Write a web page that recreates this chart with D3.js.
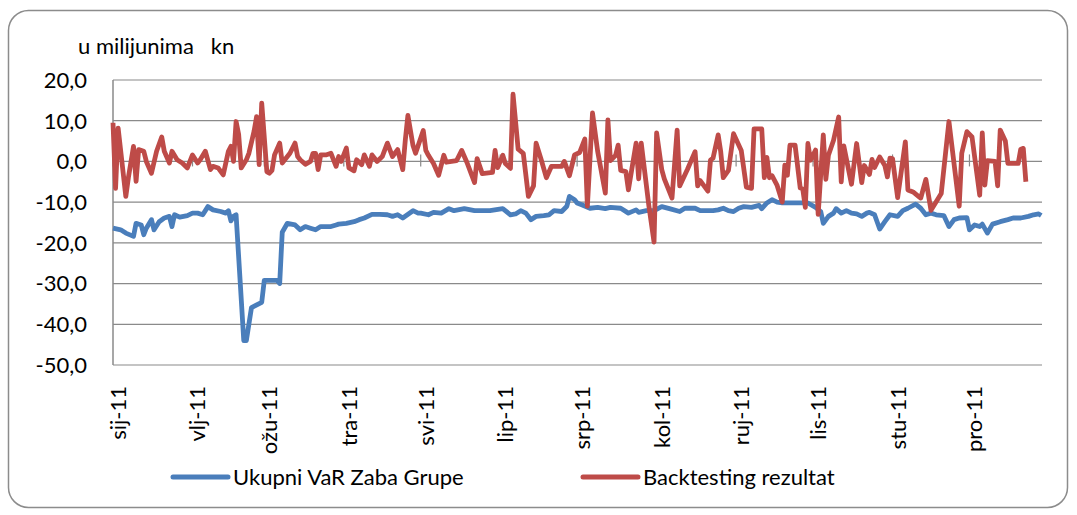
<!DOCTYPE html>
<html>
<head>
<meta charset="utf-8">
<script src="https://cdn.jsdelivr.net/npm/d3@7"></script>
<style>
  body { margin: 0; background: #fff; }
  svg { font-family: Lato, "Open Sans", sans-serif; }
</style>
</head>
<body>
<svg id="chart" width="1077" height="515"></svg>
<script>
// day of year 2011 (0 = 1 Jan) and value in millions of kn
const varDays = [0,3,5,8,9,11,12,13,15,16,18,20,22,23,24,26,29,31,33,35,37,39,42,44,45,46,47,48,51,52,54,58,59,62,64,65,66,68,71,73,75,77,
  79,81,85,87,88,91,94,96,98,101,104,107,109,111,113,117,119,120,123,125,128,131,133,137,141,147,152,155,157,159,161,163,165,168,170,172,175,177,178,180,181,183,186,189,192,194,198,201,204,205,208,211,214,217,221,223,227,229,232,234,236,
  238,240,242,244,246,249,252,253,255,257,259,261,268,271,274,276,277,279,281,282,284,286,288,290,292,294,295,297,299,301,303,306,308,310,313,315,317,319,321,324,326,328,330,333,334,336,338,339,341,343,346,349,351,354,357,359,361,362];
const varValues = [-16.4,-16.8,-17.6,-18.4,-15.2,-15.6,-18,-16.4,-14.3,-16.8,-14.8,-13.9,-13.5,-16,-13.1,-13.7,-13.3,-12.7,-12.7,-13.1,-11.1,-11.9,-12.3,-12.7,-12.1,-14.6,-13.5,-13.1,-44,-44,-35.9,-34.6,-29.2,-29.2,-29.2,-30,-17.4,-15.2,-15.6,-16.8,-16,-16.4,
  -16.8,-16,-16,-15.6,-15.4,-15.2,-14.8,-14.3,-13.9,-13,-13,-13.1,-13.5,-13.1,-13.9,-12.1,-12.7,-12.7,-13.1,-12.5,-12.7,-11.6,-12.1,-11.6,-12.1,-12.1,-11.6,-13.1,-12.9,-12.1,-12.7,-14.3,-13.5,-13.3,-13.1,-12.1,-12.3,-11,-8.6,-9.4,-10.2,-10.7,-11.5,-11.3,-11.6,-11.3,-11.5,-12.7,-11.9,-12.5,-12.1,-12.1,-11.1,-11.6,-12.3,-11.5,-11.5,-12.1,-12.1,-12.1,-11.9,
  -11.5,-12.1,-12.3,-11.5,-11.1,-11.3,-10.8,-11.6,-10.2,-9.4,-10,-10.2,-10.2,-10.2,-11.3,-12.3,-15.2,-13.5,-12.7,-11.6,-12.7,-12.1,-12.7,-12.9,-13.5,-12.7,-12.5,-13.1,-16.6,-14.8,-13.1,-13.5,-12.1,-11.5,-10.5,-11.5,-13.1,-12.7,-13.1,-13.3,-16,-14.3,-13.9,-13.8,-16.8,-15.6,-16,-15.4,-17.6,-15.4,-14.8,-14.3,-13.9,-13.9,-13.5,-13.1,-12.9,-13.3];

const btDays = [0,1,2,5,6,8,9,10,12,13,15,17,19,20,22,23,25,27,29,31,33,34,36,38,39,41,43,45,46,47,48,49,50,52,53,55,56,57,58,60,61,62,63,65,66,67,69,71,72,73,75,77,78,
  79,80,81,83,85,87,88,89,91,92,94,95,97,98,100,101,103,105,107,109,111,113,114,115,117,118,121,122,123,125,127,129,130,134,136,138,141,142,144,148,149,150,152,153,155,156,158,160,162,164,165,167,169,171,175,176,178,180,182,184,185,187,189,192,193,194,196,197,198,200,201,204,205,206,209,211,212,214,215,218,220,221,224,227,228,229,232,233,234,236,237,
  238,240,242,245,247,249,250,253,254,255,256,257,259,261,262,263,264,266,268,269,270,271,272,274,275,277,278,279,281,283,284,285,288,290,292,293,295,296,297,299,301,302,303,304,306,309,310,312,314,315,317,319,323,326,330,331,333,335,338,339,340,341,344,345,346,348,349,353,354,355,356];
const btValues = [9.5,-6.6,8.2,-8.6,-4,3.7,-4.9,2.9,2.5,0,-2.9,2.5,6,2.5,-0.4,2.5,0.4,-0.4,-1.6,1.6,-0.4,0.4,2.5,-2,-1.2,-1.6,-3.3,2.5,3.7,0,9.8,6.6,-1.6,0.4,2,7.4,11,-0.8,14.3,-2.5,-2.9,-2.2,1.6,4.5,-0.4,0.4,2,4.5,1.2,0.4,-0.7,0,2,
  2,-2,1.6,1.6,2,-1.2,1.2,0,3.3,-1.6,-2.3,0.4,-0.8,1.6,-1.2,1.6,0,1.2,4.5,1.2,2.9,-2,5.3,11.3,3.9,2,7.6,2.7,1.5,-0.5,-3.4,1.5,-0.2,0.2,2.7,-0.2,-5.2,0.7,-3,-2.7,2.7,-1.5,1.5,-0.5,-1.7,16.5,3,2,-8.6,-6,4.5,0.4,-4,-1.2,-1.2,0,-3.5,1.6,2.2,5.5,-11,11.9,2.5,-7.8,10.2,0.2,1.5,4,-2.2,-2.5,-7,4.5,-4.3,4.5,-11,-19.8,7,-2,-4.3,-9,7.7,-6,-2,2.4,-6,-4.7,-7.3,0.3,0.8,6.5,2.4,
  -4,-2.2,6.8,2.7,-6.3,-6.6,8,8,-4,1,-4,-3.5,-5.9,-10,-0.9,-3.4,4,4,-6.5,-6.8,-11.3,4.4,0.3,2.8,-13,6.5,-4.4,1.5,5.2,10.9,-5,3.8,-5.6,4.4,-5.2,-1,-3.2,0.5,-1.5,1.1,-1,-3.8,0.8,0.7,-8.9,4.8,-7,-7.5,-8.5,-9,-4.4,-12,-7.9,9.8,-11,2,7.3,6,-8.3,7,-5.8,0.2,0,-6,7.7,5,-0.5,-0.5,3,3.2,-5];

const monthLabels = ["sij-11","vlj-11","ožu-11","tra-11","svi-11","lip-11","srp-11","kol-11","ruj-11","lis-11","stu-11","pro-11"];
const yTicks = [20,10,0,-10,-20,-30,-40,-50];
const seriesNames = ["Ukupni VaR Zaba Grupe", "Backtesting rezultat"];
const seriesColors = ["#4a7ebb", "#be4b48"];

const svg = d3.select("#chart");
const start = new Date(2011, 0, 1);
const toDate = (d) => d3.timeDay.offset(start, d);

const plotLeft = 113, plotRight = 1042, plotTop = 80, plotBottom = 365;
const x = d3.scaleTime().domain([start, new Date(2011, 11, 29, 7)]).range([plotLeft, plotRight]);
const y = d3.scaleLinear().domain([-50, 20]).range([plotBottom, plotTop]);

const locale = d3.formatLocale({ decimal: ",", thousands: ".", grouping: [3], currency: ["", ""], minus: "-" });
const fmt = locale.format(".1f");

// outer frame
svg.append("rect")
  .attr("x", 8.5).attr("y", 10.5)
  .attr("width", 1059).attr("height", 497)
  .attr("rx", 20).attr("ry", 20)
  .attr("fill", "none").attr("stroke", "#8c8c8c").attr("stroke-width", 1.5);

svg.append("text")
  .attr("x", 78).attr("y", 54)
  .attr("font-size", "22px")
  .style("white-space", "pre")
  .text("u milijunima   kn");

// gridlines + y labels
svg.append("g")
  .selectAll("line")
  .data(yTicks)
  .join("line")
  .attr("x1", plotLeft).attr("x2", plotRight)
  .attr("y1", (d) => y(d)).attr("y2", (d) => y(d))
  .attr("stroke", "#8a8a8a").attr("stroke-width", 1.2);

svg.append("g")
  .selectAll("text")
  .data(yTicks)
  .join("text")
  .attr("x", 87).attr("y", (d) => y(d))
  .attr("dy", "0.36em")
  .attr("text-anchor", "end")
  .attr("font-size", "22px")
  .text((d) => fmt(d));

svg.append("line")
  .attr("x1", plotLeft).attr("x2", plotLeft)
  .attr("y1", plotTop).attr("y2", plotBottom)
  .attr("stroke", "#8a8a8a").attr("stroke-width", 1.5);

// month ticks on the zero line, labels at the bottom
const months = d3.timeMonth.range(start, new Date(2011, 11, 29));
svg.append("g")
  .selectAll("line")
  .data(months)
  .join("line")
  .attr("x1", (d) => x(d)).attr("x2", (d) => x(d))
  .attr("y1", y(0) - 7).attr("y2", y(0) + 5)
  .attr("stroke", "#8a8a8a").attr("stroke-width", 1.2);

svg.append("g")
  .selectAll("text")
  .data(months)
  .join("text")
  .attr("transform", (d) => `translate(${x(d) + 13},386) rotate(-90)`)
  .attr("text-anchor", "end")
  .attr("font-size", "22px")
  .text((d, i) => monthLabels[i]);

// series
const line = d3.line()
  .x((d) => x(d[0]))
  .y((d) => y(d[1]));

const varData = varDays.map((d, i) => [toDate(d), varValues[i]]);
const btData = btDays.map((d, i) => [toDate(d), btValues[i]]);

[varData, btData].forEach((data, i) => {
  svg.append("path")
    .datum(data)
    .attr("d", line)
    .attr("fill", "none")
    .attr("stroke", seriesColors[i])
    .attr("stroke-width", 4.8)
    .attr("stroke-linejoin", "round");
});

// legend
const legendX = [173, 583];
seriesNames.forEach((name, i) => {
  svg.append("line")
    .attr("x1", legendX[i]).attr("x2", legendX[i] + 55)
    .attr("y1", 477).attr("y2", 477)
    .attr("stroke", seriesColors[i])
    .attr("stroke-width", 5)
    .attr("stroke-linecap", "round");
  svg.append("text")
    .attr("x", legendX[i] + 60).attr("y", 477)
    .attr("dy", "0.36em")
    .attr("font-size", "22px")
    .text(name);
});
</script>
</body>
</html>
